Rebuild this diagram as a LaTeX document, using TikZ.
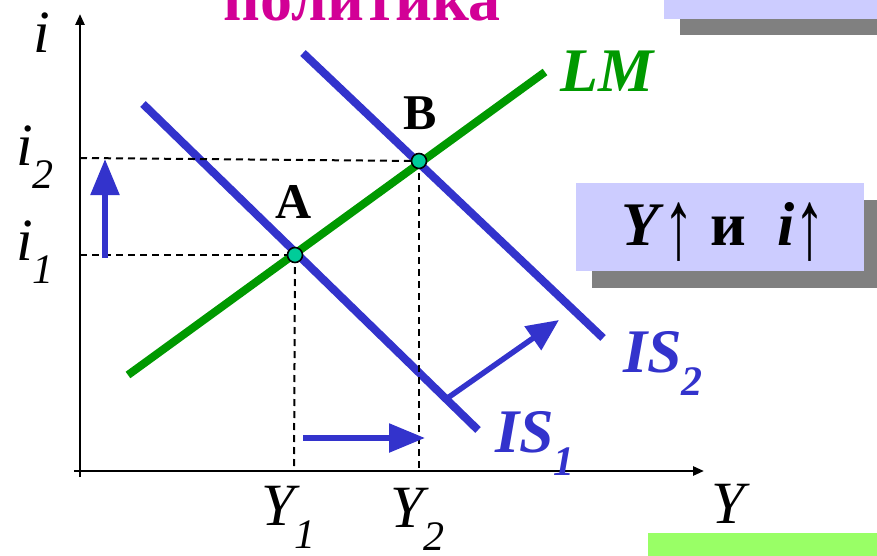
\documentclass[tikz,border=0pt]{standalone}
\usepackage{fontspec}
\setmainfont{Liberation Serif}
\usetikzlibrary{arrows.meta}
\definecolor{isblue}{RGB}{51,51,204}
\definecolor{lmgreen}{RGB}{0,153,0}
\definecolor{ptfill}{RGB}{0,204,153}
\definecolor{boxlav}{RGB}{204,204,255}
\definecolor{shadowgray}{RGB}{128,128,128}
\definecolor{titlemag}{RGB}{210,0,150}
\definecolor{boxgreen}{RGB}{153,255,102}
\newcommand{\bigfont}{\fontsize{60}{70}\selectfont}
\newcommand{\subfont}{\fontsize{42}{48}\selectfont}
\newcommand{\lowsub}[1]{\raisebox{-23pt}{\subfont #1}}
\newcommand{\tallup}{\raisebox{-13pt}{\scalebox{1}[1.6]{\mdseries ↑}}}
\tikzset{
  axisline/.style={line width=2.5pt,-{Triangle[length=11pt,width=9pt]}},
  curveline/.style={line width=8pt},
  guide/.style={line width=2pt,dash pattern=on 7pt off 5pt},
  shiftarrow/.style={isblue,line width=5.5pt,-{Triangle[length=36pt,width=28pt]}},
  eqpt/.style={circle,draw=black,line width=1.6pt,fill=ptfill,minimum size=15pt,inner sep=0pt},
  lbl/.style={anchor=base west,inner sep=0pt,font=\bigfont\itshape},
  ptlbl/.style={anchor=base west,inner sep=0pt,font=\fontsize{50}{58}\selectfont\bfseries},
  curvelbl/.style={anchor=base west,inner sep=0pt,font=\fontsize{62}{70}\selectfont\bfseries\itshape},
}
\begin{document}
\begin{tikzpicture}[x=1pt,y=-1pt]
\useasboundingbox (0,0) rectangle (877,556);
% title (cut off at top)
\node[anchor=base west,inner sep=0pt,text=titlemag,font=\fontsize{64}{72}\selectfont\bfseries] (title) at (223,21) {политика};
% top-right box
\fill[shadowgray] (680,-20) rectangle (880,35);
\fill[boxlav] (664,-40) rectangle (880,19);
% result box
\fill[shadowgray] (592,200) rectangle (880,288);
\fill[boxlav] (576,183) rectangle (864,271);
\node[anchor=base west,inner sep=0pt,font=\fontsize{62}{70}\selectfont\bfseries] (result) at (621,245) {\textit{Y}\tallup{} и~ \textit{i}\tallup};
% bottom green box
\fill[boxgreen] (648,533) rectangle (880,560);
% axes
\coordinate (o) at (80,471);
\coordinate (ybot) at (80,477);
\coordinate (ytop) at (80,14);
\coordinate (xleft) at (74,471);
\coordinate (xright) at (704,471);
\draw[axisline] (ybot) -- (ytop);
\draw[axisline] (xleft) -- (xright);
% curves
\coordinate (lm1) at (128,375);
\coordinate (lm2) at (545,72);
\coordinate (isa1) at (143,104);
\coordinate (isa2) at (478,430);
\coordinate (isb1) at (303,53);
\coordinate (isb2) at (603,338);
\draw[curveline,isblue] (isa1) -- (isa2);
\draw[curveline,isblue] (isb1) -- (isb2);
\draw[curveline,lmgreen] (lm1) -- (lm2);
% equilibrium points
\coordinate (A) at (295,255);
\coordinate (B) at (419,161);
\coordinate (Ay) at (80,255);
\coordinate (By) at (80,158);
\coordinate (Ax) at (294,471);
\coordinate (Bx) at (419,471);
\draw[guide] (Ay) -- (A);
\draw[guide] (By) -- (B);
\draw[guide] (A) -- (Ax);
\draw[guide] (B) -- (Bx);
\node[eqpt] (ptA) at (A) {};
\node[eqpt] (ptB) at (B) {};
% shift arrows
\coordinate (up1) at (105,258);
\coordinate (up2) at (105,159);
\draw[shiftarrow] (up1) -- (up2);
\coordinate (h1) at (303,438);
\coordinate (h2) at (425,438);
\draw[shiftarrow] (h1) -- (h2);
\coordinate (d1) at (449,397);
\coordinate (d2) at (559,320);
\draw[isblue,line width=5.5pt,-{Triangle[length=32pt,width=28pt]}] (d1) -- (d2);
% labels
\node[ptlbl] (labA) at (275,218) {A};
\node[ptlbl] (labB) at (403,130) {B};
\node[curvelbl,text=lmgreen] (labLM) at (560,92) {LM};
\node[curvelbl,text=isblue] (labIS2) at (623,372) {IS\lowsub{2}};
\node[curvelbl,text=isblue] (labIS1) at (495,452) {IS\lowsub{1}};
\node[lbl] (labi) at (33,53) {i};
\node[lbl] (labi2) at (16,165) {i\lowsub{2}};
\node[lbl] (labi1) at (16,260) {i\lowsub{1}};
\node[lbl] (labY1) at (261,525) {Y\lowsub{1}};
\node[lbl] (labY2) at (390,527) {Y\lowsub{2}};
\node[lbl] (labY) at (711,523) {Y};
\end{tikzpicture}
\end{document}
